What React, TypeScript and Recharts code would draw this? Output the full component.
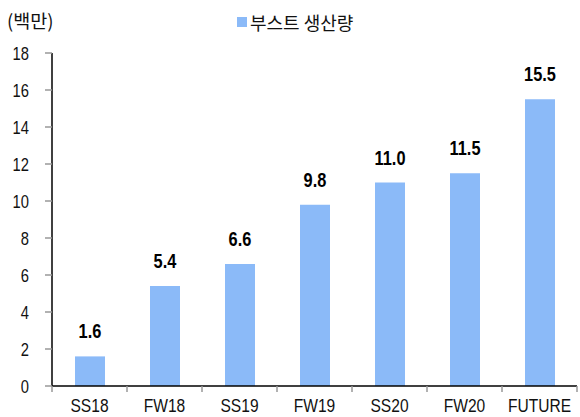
import { Bar, BarChart, LabelList, XAxis, YAxis } from "recharts";

const seasons = ["SS18", "FW18", "SS19", "FW19", "SS20", "FW20", "FUTURE"];
const boostOutput = [1.6, 5.4, 6.6, 9.8, 11.0, 11.5, 15.5];
const yTicks = [0, 2, 4, 6, 8, 10, 12, 14, 16, 18];

const seriesName = "부스트 생산량";
const unitLabel = "(백만)";

const data = seasons.map((season, i) => ({ season, value: boostOutput[i] }));

const numFont = "'Liberation Sans', Arial, sans-serif";
const krFont = "'Noto Sans CJK KR', 'Noto Sans', sans-serif";
const barColor = "#8bbaf8";
const narrow = 0.82;

interface TickProps {
  x?: number;
  y?: number;
  index?: number;
  visibleTicksCount?: number;
  payload?: { value: string | number; offset?: number };
}

// recharts hands the tick y already pushed down by tickSize + tickMargin (8px)
function SeasonTick({ x = 0, y = 0, payload, index = 0, visibleTicksCount = 0 }: TickProps) {
  const half = payload?.offset ?? 0;
  const left = x - half;
  const right = x + half;
  const axisY = y - 8;
  return (
    <g>
      <line x1={left} y1={axisY} x2={left} y2={axisY + 6} stroke="#999" strokeWidth={1.5} />
      {index === visibleTicksCount - 1 && (
        <line x1={right} y1={axisY} x2={right} y2={axisY + 6} stroke="#999" strokeWidth={1.5} />
      )}
      <text
        transform={`translate(${x},${axisY + 26}) scale(${narrow},1)`}
        textAnchor="middle"
        fontFamily={numFont}
        fontSize={19}
        fill="#111"
      >
        {payload?.value}
      </text>
    </g>
  );
}

function ValueTick({ x = 0, y = 0, payload }: TickProps) {
  return (
    <text
      transform={`translate(${x},${y + 6.5}) scale(${narrow},1)`}
      textAnchor="end"
      fontFamily={numFont}
      fontSize={18}
      fill="#111"
    >
      {payload?.value}
    </text>
  );
}

interface BarLabelProps {
  x?: number;
  y?: number;
  width?: number;
  value?: number;
}

function BarValue({ x = 0, y = 0, width = 0, value = 0 }: BarLabelProps) {
  return (
    <text
      transform={`translate(${Number(x) + Number(width) / 2},${Number(y) - 18}) scale(0.84,1)`}
      textAnchor="middle"
      fontFamily={numFont}
      fontSize={19.5}
      fontWeight="bold"
      fill="#000"
    >
      {Number(value).toFixed(1)}
    </text>
  );
}

export default function App() {
  return (
    <div style={{ position: "absolute", left: 0, top: 0, width: 580, height: 417, background: "#fff" }}>
      <div
        style={{
          position: "absolute",
          left: 7,
          top: 10,
          fontFamily: krFont,
          fontSize: 18.5,
          lineHeight: "20px",
          color: "#111",
        }}
      >
        {unitLabel}
      </div>
      <div
        style={{
          position: "absolute",
          left: 237,
          top: 12,
          display: "flex",
          alignItems: "center",
          fontFamily: krFont,
          fontSize: 18,
          lineHeight: "20px",
          color: "#111",
        }}
      >
        <span style={{ width: 10, height: 10, background: barColor, marginRight: 3, display: "inline-block" }} />
        <span>{seriesName}</span>
      </div>
      <BarChart width={580} height={417} data={data} margin={{ top: 53, right: 3, left: 0, bottom: 0 }}>
        <XAxis
          dataKey="season"
          height={31}
          axisLine={{ stroke: "#000", strokeWidth: 1.5 }}
          tickLine={false}
          tick={<SeasonTick />}
          interval={0}
        />
        <YAxis
          width={52}
          domain={[0, 18]}
          ticks={yTicks}
          interval={0}
          axisLine={{ stroke: "#000", strokeWidth: 1.5 }}
          tickLine={{ stroke: "#999", strokeWidth: 1.5 }}
          tickSize={7}
          tickMargin={16}
          tick={<ValueTick />}
        />
        <Bar dataKey="value" name={seriesName} fill={barColor} barSize={30} isAnimationActive={false}>
          <LabelList dataKey="value" content={<BarValue />} />
        </Bar>
      </BarChart>
    </div>
  );
}
